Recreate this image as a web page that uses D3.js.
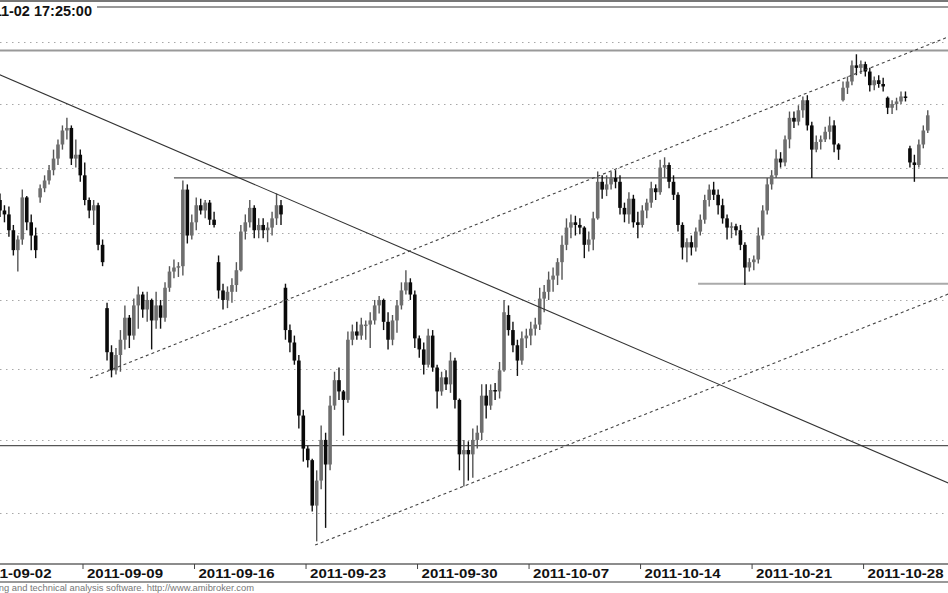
<!DOCTYPE html>
<html>
<head>
<meta charset="utf-8">
<script src="https://cdn.jsdelivr.net/npm/d3@7"></script>
<style>
  html, body { margin: 0; padding: 0; background: #fff; }
  svg { display: block; font-family: 'Liberation Sans', Arial, sans-serif; }
</style>
</head>
<body>
<svg id="chart" width="948" height="593"></svg>
<script>
'use strict'

// trading days shown (Nov 1 is a holiday), index 0 only carries the first label
const days = [
  '2011-09-02', '2011-09-05', '2011-09-06', '2011-09-07', '2011-09-08', '2011-09-09',
  '2011-09-12', '2011-09-13', '2011-09-14', '2011-09-15', '2011-09-16',
  '2011-09-19', '2011-09-20', '2011-09-21', '2011-09-22', '2011-09-23',
  '2011-09-26', '2011-09-27', '2011-09-28', '2011-09-29', '2011-09-30',
  '2011-10-03', '2011-10-04', '2011-10-05', '2011-10-06', '2011-10-07',
  '2011-10-10', '2011-10-11', '2011-10-12', '2011-10-13', '2011-10-14',
  '2011-10-17', '2011-10-18', '2011-10-19', '2011-10-20', '2011-10-21',
  '2011-10-24', '2011-10-25', '2011-10-26', '2011-10-27', '2011-10-28',
  '2011-10-31', '2011-11-02'
]
const tickLabels = ['2011-09-02', '2011-09-09', '2011-09-16', '2011-09-23', '2011-09-30',
  '2011-10-07', '2011-10-14', '2011-10-21', '2011-10-28']

const BARS_PER_DAY = 5

// first open of every day from 2011-09-05
const dayOpens = [1879, 1837, 1877, 1918, 1894, 1794, 1787, 1800, 1821, 1858, 1828, 1822, 1856, 1809,
  1694, 1683, 1771, 1785, 1785, 1772, 1734, 1690, 1731, 1789, 1774, 1815, 1858, 1861, 1889, 1856,
  1900, 1839, 1875, 1854, 1828, 1894, 1936, 1920, 1953, 1982, 1955, 1915]

const highs = [
  1884, 1880, 1871, 1870, 1856, 1848, 1883, 1878, 1864, 1854,
  1887, 1894, 1902, 1914, 1922, 1933, 1939, 1933, 1922, 1914,
  1904, 1877, 1875, 1873, 1845, 1798, 1767, 1765, 1778, 1796,
  1789, 1801, 1810, 1806, 1806, 1801, 1806, 1800, 1813, 1825,
  1830, 1828, 1890, 1887, 1864, 1877, 1876, 1875, 1875, 1866,
  1833, 1812, 1810, 1816, 1828, 1856, 1864, 1875, 1871, 1861,
  1861, 1858, 1866, 1880, 1875, 1812, 1782, 1774, 1760, 1721,
  1696, 1687, 1679, 1710, 1705, 1731, 1748, 1751, 1735, 1777,
  1782, 1784, 1787, 1785, 1791, 1800, 1803, 1801, 1791, 1789,
  1800, 1813, 1822, 1816, 1807, 1774, 1769, 1779, 1778, 1753,
  1748, 1749, 1762, 1758, 1729, 1700, 1699, 1708, 1710, 1739,
  1739, 1739, 1740, 1755, 1800, 1796, 1784, 1771, 1777, 1779,
  1784, 1787, 1809, 1811, 1821, 1824, 1831, 1848, 1861, 1864,
  1863, 1861, 1855, 1851, 1866, 1897, 1894, 1894, 1897, 1898,
  1894, 1873, 1881, 1879, 1866, 1871, 1876, 1889, 1887, 1906,
  1908, 1904, 1894, 1881, 1858, 1846, 1848, 1854, 1864, 1879,
  1887, 1889, 1883, 1876, 1864, 1858, 1857, 1856, 1843, 1831,
  1833, 1854, 1871, 1892, 1898, 1914, 1912, 1925, 1944, 1944,
  1949, 1956, 1957, 1936, 1925, 1925, 1932, 1940, 1937, 1919,
  1968, 1972, 1985, 1990, 1985, 1984, 1979, 1972, 1973, 1971,
  1956, 1953, 1955, 1960, 1960, 1917, 1910, 1922, 1933, 1945
]

const lows = [
  1867, 1862, 1858, 1847, 1833, 1821, 1841, 1852, 1837, 1831,
  1873, 1881, 1887, 1894, 1902, 1914, 1922, 1902, 1900, 1889,
  1871, 1861, 1856, 1837, 1825, 1756, 1744, 1746, 1748, 1764,
  1765, 1771, 1779, 1787, 1784, 1764, 1779, 1779, 1784, 1806,
  1816, 1817, 1818, 1842, 1845, 1852, 1864, 1861, 1856, 1854,
  1801, 1793, 1794, 1798, 1806, 1821, 1845, 1854, 1846, 1846,
  1846, 1843, 1848, 1856, 1856, 1771, 1762, 1753, 1708, 1685,
  1681, 1651, 1631, 1666, 1640, 1679, 1721, 1728, 1703, 1726,
  1767, 1771, 1771, 1771, 1765, 1782, 1790, 1778, 1764, 1767,
  1776, 1793, 1804, 1800, 1765, 1758, 1746, 1751, 1748, 1722,
  1731, 1735, 1733, 1722, 1679, 1668, 1672, 1674, 1694, 1700,
  1715, 1721, 1728, 1729, 1748, 1774, 1762, 1745, 1753, 1765,
  1767, 1774, 1778, 1791, 1800, 1806, 1811, 1815, 1837, 1846,
  1848, 1849, 1831, 1836, 1837, 1860, 1876, 1878, 1883, 1884,
  1864, 1858, 1857, 1854, 1846, 1854, 1861, 1869, 1875, 1879,
  1892, 1884, 1875, 1851, 1830, 1828, 1833, 1836, 1848, 1857,
  1870, 1875, 1864, 1857, 1845, 1846, 1848, 1837, 1811, 1821,
  1822, 1827, 1845, 1864, 1883, 1892, 1900, 1901, 1915, 1931,
  1933, 1939, 1929, 1892, 1912, 1914, 1920, 1922, 1912, 1906,
  1952, 1958, 1965, 1973, 1974, 1972, 1960, 1961, 1963, 1960,
  1942, 1942, 1945, 1950, 1952, 1900, 1889, 1900, 1915, 1927
]

const closes = [
  1875, 1867, 1864, 1852, 1837, 1845, 1877, 1858, 1848, 1837,
  1884, 1890, 1898, 1907, 1918, 1929, 1931, 1907, 1910, 1894,
  1875, 1867, 1871, 1841, 1828, 1762, 1749, 1760, 1771, 1787,
  1774, 1796, 1804, 1793, 1800, 1785, 1796, 1787, 1809, 1821,
  1824, 1825, 1883, 1848, 1858, 1871, 1867, 1873, 1860, 1856,
  1807, 1800, 1806, 1811, 1822, 1851, 1858, 1869, 1852, 1856,
  1852, 1854, 1861, 1871, 1864, 1778, 1769, 1756, 1717, 1694,
  1686, 1655, 1672, 1700, 1683, 1724, 1742, 1734, 1728, 1771,
  1777, 1774, 1782, 1782, 1785, 1796, 1800, 1784, 1771, 1785,
  1796, 1807, 1813, 1804, 1772, 1764, 1753, 1774, 1751, 1734,
  1744, 1739, 1756, 1728, 1690, 1693, 1690, 1700, 1705, 1731,
  1724, 1735, 1734, 1749, 1791, 1778, 1767, 1756, 1772, 1774,
  1779, 1782, 1801, 1806, 1815, 1818, 1828, 1841, 1854, 1858,
  1856, 1854, 1841, 1845, 1861, 1889, 1883, 1887, 1892, 1889,
  1869, 1864, 1876, 1858, 1856, 1867, 1873, 1884, 1881, 1900,
  1902, 1889, 1879, 1856, 1839, 1843, 1839, 1851, 1860, 1875,
  1883, 1879, 1871, 1861, 1854, 1855, 1852, 1841, 1824, 1828,
  1830, 1848, 1867, 1887, 1894, 1907, 1904, 1922, 1939, 1936,
  1945, 1953, 1933, 1914, 1920, 1922, 1928, 1933, 1918, 1914,
  1963, 1968, 1981, 1979, 1982, 1976, 1965, 1969, 1966, 1964,
  1947, 1950, 1952, 1956, 1955, 1904, 1902, 1918, 1929, 1941
]

const gridPrices = [1650, 1700, 1750, 1800, 1850, 1900, 1950, 2000]

// horizontal support / resistance: price and the day index where it starts
const levelPrices = [1993, 1892, 1812, 1696]
const levelStarts = [0, 9.1, 32.6, 0]

// trend lines as [dayIndex, price] pairs
const downTrend = [[1.0, 1975.6], [44, 1669.1]]
const upperChannel = [[5.34, 1743.5], [44, 2005.5]]
const lowerChannel = [[15.43, 1628.5], [44, 1805.5]]

const width = 948
const svg = d3.select('#chart')

const x = d3.scaleLinear().domain([0, days.length]).range([-29, 930])
const y = d3.scaleLog().domain([1650, 2000]).range([513, 42])

// top frame
svg.append('line').attr('x1', 0).attr('x2', width).attr('y1', 1).attr('y2', 1)
  .attr('stroke', '#777').attr('stroke-width', 2)
svg.append('line').attr('x1', 97).attr('x2', width).attr('y1', 7).attr('y2', 7)
  .attr('stroke', '#999').attr('stroke-width', 2)
svg.append('text').attr('x', 92).attr('y', 16)
  .attr('text-anchor', 'end').attr('font-size', 14.5).attr('font-weight', 'bold')
  .attr('fill', '#111')
  .text('2011-11-02 17:25:00')

// dotted grid
svg.append('g').selectAll('line').data(gridPrices).enter().append('line')
  .attr('x1', 0).attr('x2', width)
  .attr('y1', (d) => Math.round(y(d)) + 0.5).attr('y2', (d) => Math.round(y(d)) + 0.5)
  .attr('stroke', '#a8a8a8').attr('stroke-dasharray', '1.5,4.5')

// horizontal levels
const levelColor = ['#999', '#555', '#aaa', '#555']
const levelWidth = [2, 1.3, 2, 1.3]
svg.append('g').selectAll('line').data(levelPrices).enter().append('line')
  .attr('x1', (d, i) => Math.max(0, x(levelStarts[i]))).attr('x2', width)
  .attr('y1', (d) => y(d)).attr('y2', (d) => y(d))
  .attr('stroke', (d, i) => levelColor[i]).attr('stroke-width', (d, i) => levelWidth[i])

// bars
const bars = highs.map((h, i) => {
  const day = 1 + Math.floor(i / BARS_PER_DAY)
  const slot = i % BARS_PER_DAY
  const open = slot === 0 ? dayOpens[day - 1] : closes[i - 1]
  const close = closes[i]
  return {
    t: day + (slot + 0.5) / BARS_PER_DAY,
    open,
    close,
    high: Math.max(h, open, close),
    low: Math.min(lows[i], open, close)
  }
})

const barW = 3.6
const barG = svg.append('g')
const bar = barG.selectAll('g').data(bars).enter().append('g')
bar.append('line')
  .attr('x1', (d) => x(d.t)).attr('x2', (d) => x(d.t))
  .attr('y1', (d) => y(d.high)).attr('y2', (d) => y(d.low))
  .attr('stroke', (d) => d.close >= d.open ? '#555' : '#111')
  .attr('stroke-width', 1.4)
bar.append('rect')
  .attr('x', (d) => x(d.t) - barW / 2)
  .attr('width', barW)
  .attr('y', (d) => y(Math.max(d.open, d.close)))
  .attr('height', (d) => Math.max(1.5, Math.abs(y(d.open) - y(d.close))))
  .attr('fill', (d) => d.close >= d.open ? '#6e6e6e' : '#0a0a0a')

// trend lines
const line = d3.line().x((d) => x(d[0])).y((d) => y(d[1]))
svg.append('path').datum(downTrend).attr('d', line)
  .attr('fill', 'none').attr('stroke', '#333').attr('stroke-width', 1.1)
svg.append('path').datum(upperChannel).attr('d', line)
  .attr('fill', 'none').attr('stroke', '#444').attr('stroke-width', 1.1)
  .attr('stroke-dasharray', '3,3')
svg.append('path').datum(lowerChannel).attr('d', line)
  .attr('fill', 'none').attr('stroke', '#444').attr('stroke-width', 1.1)
  .attr('stroke-dasharray', '3,3')

// date axis band
const axisTop = 564
svg.append('rect').attr('x', 0).attr('y', axisTop).attr('width', width).attr('height', 18).attr('fill', '#fff')
svg.append('line').attr('x1', 0).attr('x2', width).attr('y1', axisTop).attr('y2', axisTop)
  .attr('stroke', '#666').attr('stroke-width', 1.6)
svg.append('line').attr('x1', 0).attr('x2', width).attr('y1', 582).attr('y2', 582)
  .attr('stroke', '#777').attr('stroke-width', 1.6)

const xAxis = d3.axisBottom(x)
  .tickValues(tickLabels.map((t) => days.indexOf(t)))
  .tickFormat((i) => days[i])
  .tickSize(5)
  .tickSizeOuter(0)

const axisG = svg.append('g').attr('transform', `translate(0,${axisTop})`).call(xAxis)
axisG.select('.domain').remove()
axisG.selectAll('.tick line').attr('stroke', '#444')
axisG.selectAll('.tick text')
  .attr('text-anchor', 'start')
  .attr('x', 4).attr('y', 13.5).attr('dy', null)
  .attr('font-family', "'Liberation Sans', Arial, sans-serif")
  .attr('font-size', 12.5).attr('font-weight', 'bold').attr('fill', '#111')
  .attr('textLength', 76).attr('lengthAdjust', 'spacingAndGlyphs')

svg.append('text').attr('x', 254).attr('y', 591)
  .attr('text-anchor', 'end').attr('font-size', 9.4).attr('fill', '#777')
  .text('AmiBroker - Advanced charting and technical analysis software. http://www.amibroker.com')
</script>
</body>
</html>
